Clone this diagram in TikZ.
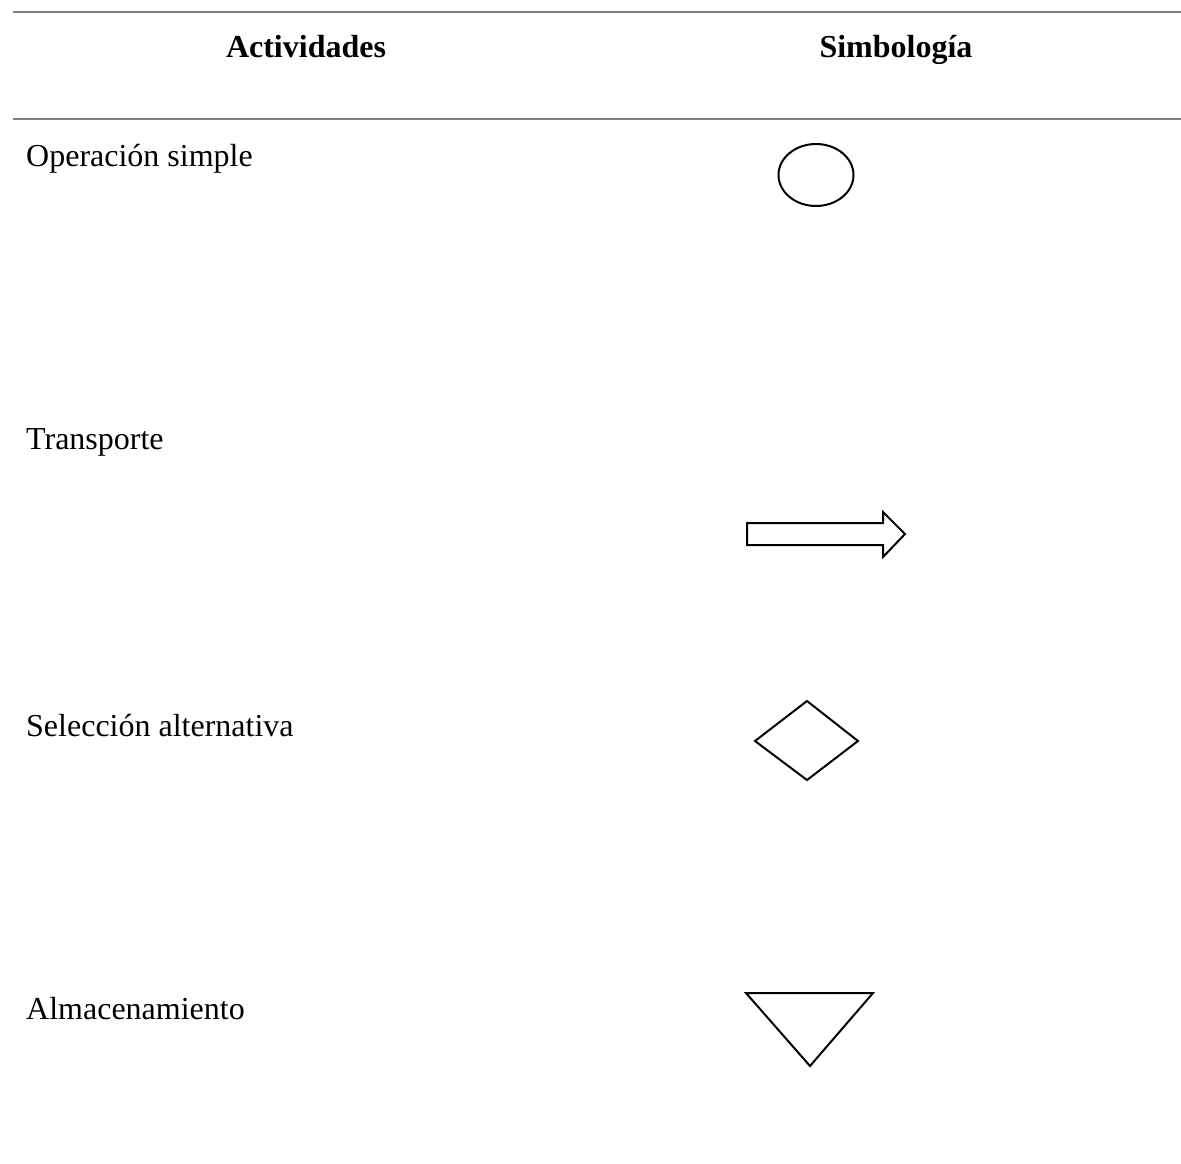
\documentclass[tikz,border=0pt]{standalone}
\usepackage{fontspec}
\setmainfont{Liberation Serif}
\begin{document}
\begin{tikzpicture}[x=1pt,y=-1pt,
  rule/.style={draw=black!50, line width=2pt},
  head/.style={font=\fontsize{32}{38}\selectfont\bfseries, inner sep=0pt, anchor=base},
  label/.style={font=\fontsize{32}{38}\selectfont, inner sep=0pt, anchor=base west},
  sym/.style={draw=black, line width=2pt, line join=miter}]
\useasboundingbox (0,0) rectangle (1181,1164);
% rules
\coordinate (r1a) at (13,12);
\coordinate (r1b) at (1181,12);
\coordinate (r2a) at (13,119);
\coordinate (r2b) at (1181,119);
\draw[rule] (r1a) -- (r1b);
\draw[rule] (r2a) -- (r2b);
% headers
\node[head] (hact) at (306,58) {Actividades};
\node[head] (hsym) at (896,58) {Simbología};
% labels
\node[label] (l1) at (26,166) {Operación simple};
\node[label] (l2) at (26,449) {Transporte};
\node[label] (l3) at (26,736) {Selección alternativa};
\node[label] (l4) at (26,1019) {Almacenamiento};
% symbols
\draw[sym] (816,175) ellipse [x radius=37.5, y radius=31];
\draw[sym] (747,523) -- (883,523) -- (883,512) -- (905,534) -- (883,557) -- (883,545) -- (747,545) -- cycle;
\draw[sym] (755,741) -- (807,701) -- (858,741) -- (807,780) -- cycle;
\draw[sym] (746,993) -- (873,993) -- (810,1066) -- cycle;
\end{tikzpicture}
\end{document}
